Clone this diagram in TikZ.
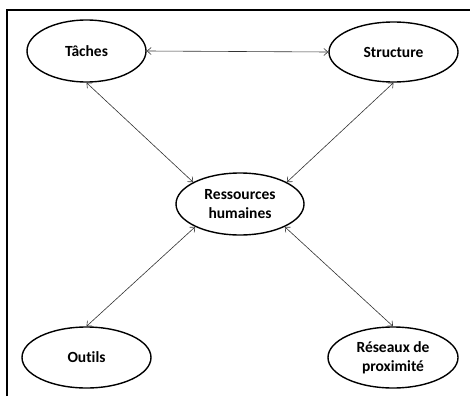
\documentclass[tikz,border=0pt]{standalone}
\usepackage{fontspec}
\setmainfont[Ligatures=NoCommon]{Carlito}
\usetikzlibrary{shapes.geometric,arrows.meta}
\begin{document}
\begin{tikzpicture}[x=1pt,y=-1pt,
  bubble/.style={ellipse,draw=black,line width=1.4pt,inner sep=0pt,
    font=\bfseries\fontsize{15.5}{19}\selectfont,align=center},
  link/.style={draw=black!80,line width=0.6pt,{Straight Barb[length=4pt,width=7pt]}-{Straight Barb[length=4pt,width=7pt]}}]
\useasboundingbox (0,0) rectangle (470,396);
\draw[line width=2.6pt] (7,396) -- (7,10) -- (470,10);
\node[bubble,minimum width=119pt,minimum height=62pt] (taches) at (86.5,51) {Tâches};
\node[bubble,minimum width=129pt,minimum height=60pt] (structure) at (393.5,52) {Structure};
\node[bubble,minimum width=128pt,minimum height=62pt] (rh) at (240,204) {Ressources\\humaines};
\node[bubble,minimum width=129pt,minimum height=61pt] (outils) at (86.5,357.5) {Outils};
\node[bubble,minimum width=130pt,minimum height=61pt] (reseaux) at (393,357.5) {Réseaux de\\proximité};
\draw[link] (taches.east) -- (structure.west);
\draw[link] (taches.south) -- (rh.155);
\draw[link] (structure.south) -- (rh.25);
\draw[link] (outils.north) -- (rh.207);
\draw[link] (reseaux.north) -- (rh.333);
\end{tikzpicture}
\end{document}
